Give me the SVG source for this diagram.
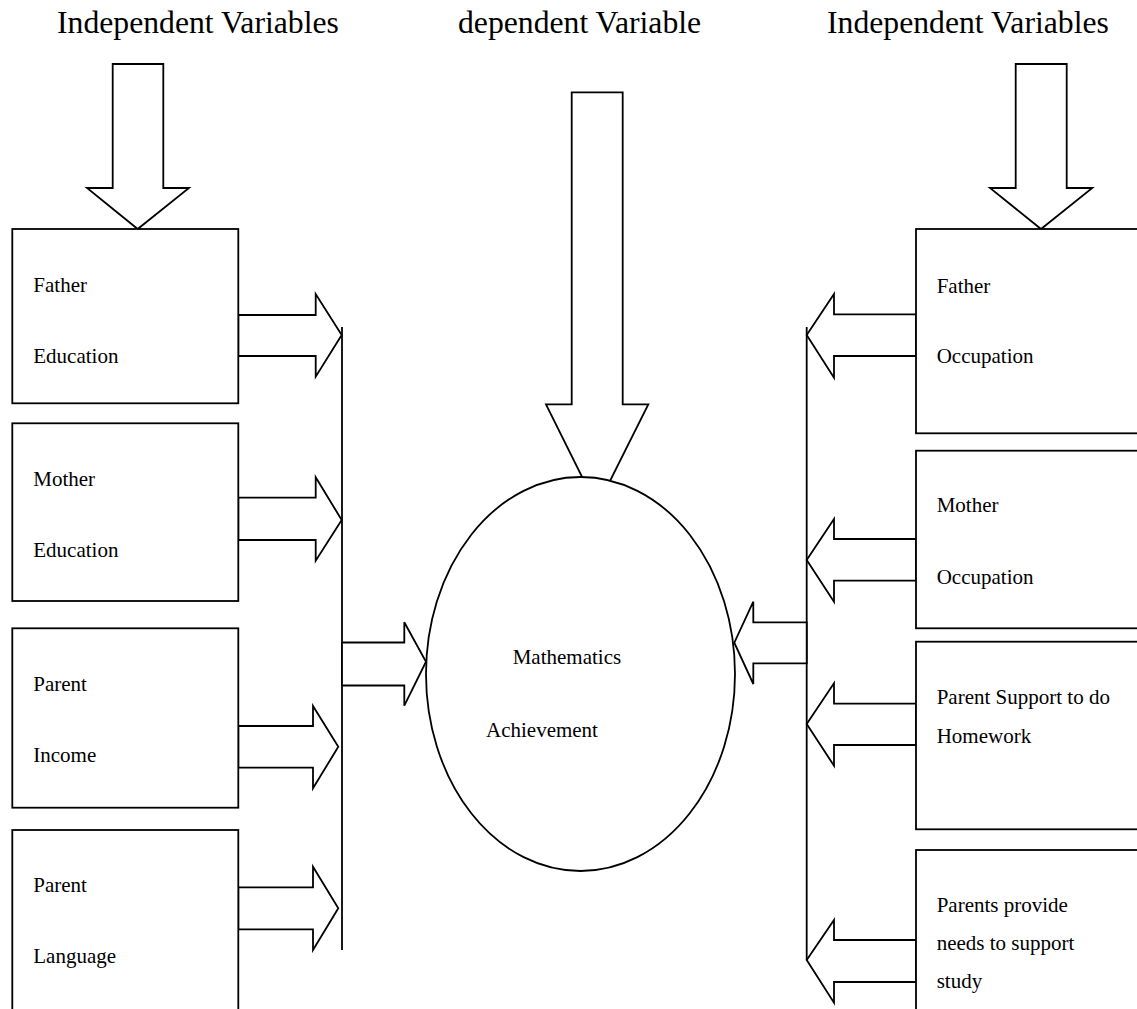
<svg xmlns="http://www.w3.org/2000/svg" width="1137" height="1009" viewBox="0 0 1137 1009">
<style>
.s{fill:#fff;stroke:#000;stroke-width:1.8;stroke-linejoin:miter}
.l{fill:none;stroke:#000;stroke-width:1.8}
.t{font-family:"Liberation Serif","Times New Roman",serif;font-size:21px;fill:#000}
.h{font-family:"Liberation Serif","Times New Roman",serif;font-size:31.7px;fill:#000}
</style>
<rect width="1137" height="1009" fill="#fff"/>
<g id="titles">
<text class="h" x="57" y="33">Independent Variables</text>
<text class="h" x="458" y="33">dependent Variable</text>
<text class="h" x="827" y="33">Independent Variables</text>
</g>
<g id="connectors">
<polygon class="s" points="112.7,64 163.3,64 163.3,188 189,188 137.7,229 87,188 112.7,188"/>
<polygon class="s" points="1015.7,64 1066.7,64 1066.7,188 1092.3,188 1041,229 990,188 1015.7,188"/>
<polygon class="s" points="571.7,92.3 622.7,92.3 622.7,404.3 648.3,404.3 597,507 546,404.3 571.7,404.3"/>
<polygon class="s" points="238.3,315 315.7,315 315.7,294 341.7,335 315.7,376.7 315.7,356 238.3,356"/>
<polygon class="s" points="238.3,497.7 315.7,497.7 315.7,477.3 341.7,520 315.7,560.7 315.7,540 238.3,540"/>
<polygon class="s" points="238.3,726 313,726 313,706 338.3,746.7 313,788.3 313,767.7 238.3,767.7"/>
<polygon class="s" points="238.3,887.3 313,887.3 313,866.7 338.3,908.3 313,950 313,929.3 238.3,929.3"/>
<line class="l" x1="342" y1="327" x2="342" y2="950"/>
<polygon class="s" points="342,642.5 404.3,642.5 404.3,622.3 426,661.7 404.3,705.7 404.3,685.5 342,685.5"/>
<polygon class="s" points="916,314.3 834,314.3 834,294 806.7,335 834,377.7 834,356 916,356"/>
<polygon class="s" points="916,539 834,539 834,519 806.7,560 834,601.7 834,580.7 916,580.7"/>
<polygon class="s" points="916,703.7 834,703.7 834,683.3 806.7,724 834,765.7 834,745 916,745"/>
<polygon class="s" points="916,940 834,940 834,920 806.7,960 834,1002.7 834,982 916,982"/>
<line class="l" x1="806.7" y1="327" x2="806.7" y2="960"/>
<polygon class="s" points="806.7,622.3 753.3,622.3 753.3,601.7 734.3,642.7 753.3,684 753.3,663.3 806.7,663.3"/>
</g>
<g id="father-education">
<rect class="s" x="12.3" y="229" width="226" height="174.3"/>
<text class="t" x="33.3" y="291.7">Father</text>
<text class="t" x="33.3" y="363">Education</text>
</g>
<g id="mother-education">
<rect class="s" x="12.3" y="423.3" width="226" height="177.7"/>
<text class="t" x="33.3" y="485.7">Mother</text>
<text class="t" x="33.3" y="556.7">Education</text>
</g>
<g id="parent-income">
<rect class="s" x="12.3" y="628.3" width="226" height="179.4"/>
<text class="t" x="33.3" y="690.7">Parent</text>
<text class="t" x="33.3" y="761.7">Income</text>
</g>
<g id="parent-language">
<rect class="s" x="12.3" y="830" width="226" height="190"/>
<text class="t" x="33.3" y="891.7">Parent</text>
<text class="t" x="33.3" y="963.3">Language</text>
</g>
<g id="math-achievement">
<ellipse class="s" cx="580.5" cy="674" rx="154.5" ry="197"/>
<text class="t" x="512.7" y="664">Mathematics</text>
<text class="t" x="486" y="737.3">Achievement</text>
</g>
<g id="father-occupation">
<rect class="s" x="916" y="229" width="230" height="204.3"/>
<text class="t" x="936.7" y="292.7">Father</text>
<text class="t" x="936.7" y="363.3">Occupation</text>
</g>
<g id="mother-occupation">
<rect class="s" x="916" y="450.7" width="230" height="177.6"/>
<text class="t" x="936.7" y="512.3">Mother</text>
<text class="t" x="936.7" y="584.3">Occupation</text>
</g>
<g id="parent-support">
<rect class="s" x="916" y="641.7" width="230" height="187.6"/>
<text class="t" x="936.7" y="704">Parent Support to do</text>
<text class="t" x="936.7" y="743.3">Homework</text>
</g>
<g id="parents-provide">
<rect class="s" x="916" y="850" width="230" height="170"/>
<text class="t" x="936.7" y="911.7">Parents provide</text>
<text class="t" x="936.7" y="950">needs to support</text>
<text class="t" x="936.7" y="988.3">study</text>
</g>
</svg>
